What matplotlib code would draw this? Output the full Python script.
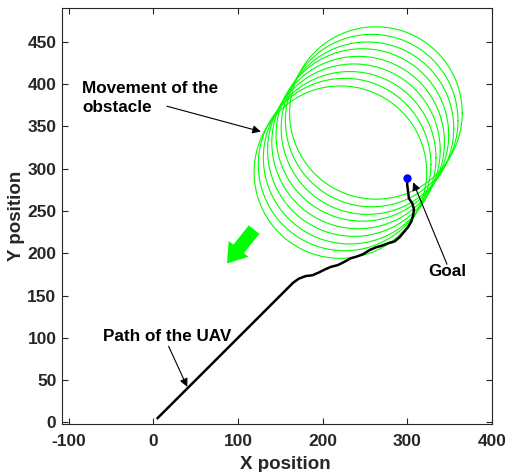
import numpy as np
import matplotlib
matplotlib.use('Agg')
import matplotlib.pyplot as plt

plt.rcParams['font.family'] = ['Liberation Sans', 'DejaVu Sans']
plt.rcParams['font.weight'] = 'bold'
plt.rcParams['axes.unicode_minus'] = False

# obstacle centres (moving down-left), radius
obs_x = [263, 258, 253, 247, 242, 237, 232, 226, 221]
obs_y = [366, 357, 348, 340, 331, 322, 313, 305, 296]
obs_r = 102

# UAV path
path_x = [5, 165, 172, 180, 188, 195, 203, 210, 218, 226, 233, 240, 248, 256, 263,
          270, 278, 285, 291, 296, 301, 305, 307, 308, 306, 302, 301, 300, 300]
path_y = [5, 165, 170, 173, 174, 177, 181, 184, 186, 190, 194, 196, 199, 204, 207,
          209, 212, 214, 219, 225, 231, 238, 245, 252, 259, 265, 273, 281, 289]

goal = (300, 289)

# big green arrow showing movement direction
move_start = (119, 228)
move_end = (87, 188)

xticks = [-100, 0, 100, 200, 300, 400]
yticks = [0, 50, 100, 150, 200, 250, 300, 350, 400, 450]

fig = plt.figure(figsize=(5.06, 4.72), dpi=100)
ax = fig.add_axes([0.1225, 0.1017, 0.8495, 0.881])

t = np.linspace(0, 2 * np.pi, 300)
for cx, cy in zip(obs_x, obs_y):
    ax.plot(cx + obs_r * np.cos(t), cy + obs_r * np.sin(t), color='#00ff00', lw=0.8)

ax.plot(path_x, path_y, color='black', lw=1.8)
ax.plot(goal[0], goal[1], 'o', color='#0000ff', ms=5)

ax.arrow(move_start[0], move_start[1], move_end[0] - move_start[0], move_end[1] - move_start[1],
         width=16, head_width=30, head_length=22, length_includes_head=True,
         color='#00ff00', lw=0)

aprops = dict(arrowstyle='-|>', color='black', lw=0.8, mutation_scale=12, shrinkA=0, shrinkB=0)
ax.text(-84, 384, 'Movement of the\nobstacle', fontsize=12.3, fontweight='bold',
        ha='left', va='center', linespacing=1.3)
ax.annotate('', xy=(127, 344), xytext=(16, 374), arrowprops=aprops)
ax.text(-60, 102, 'Path of the UAV', fontsize=12.3, fontweight='bold', ha='left', va='center')
ax.annotate('', xy=(40, 42), xytext=(18, 90), arrowprops=aprops)
ax.text(325, 178, 'Goal', fontsize=12.3, fontweight='bold', ha='left', va='center')
ax.annotate('', xy=(307, 284), xytext=(347, 187), arrowprops=aprops)

ax.set_xlim(-108, 400)
ax.set_ylim(-2, 490)
ax.set_xticks(xticks)
ax.set_yticks(yticks)
ax.tick_params(direction='in', top=True, right=True, length=4, width=0.8,
               labelsize=12.5, colors='#262626')
ax.tick_params(axis='x', pad=7)
ax.tick_params(axis='y', pad=4)
for lab in ax.get_xticklabels() + ax.get_yticklabels():
    lab.set_fontweight('bold')
for s in ax.spines.values():
    s.set_color('#262626')
    s.set_linewidth(0.8)

ax.set_xlabel('X position', fontsize=13.5, fontweight='bold', color='#262626', labelpad=0)
ax.xaxis.set_label_coords(0.52, -0.078)
ax.set_ylabel('Y position', fontsize=13.5, fontweight='bold', color='#262626', labelpad=2)

fig.savefig('out.png', dpi=100)
